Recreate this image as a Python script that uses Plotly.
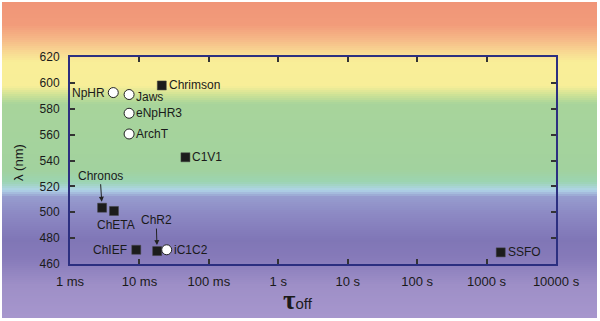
import math
import plotly.graph_objects as go

# ---- data ----
names = ["NpHR", "Jaws", "eNpHR3", "ArchT", "Chrimson", "C1V1", "Chronos",
         "ChETA", "ChIEF", "ChR2", "iC1C2", "SSFO"]
tau_off_s = [0.0042, 0.0071, 0.0071, 0.0071, 0.021, 0.046, 0.0029,
             0.0043, 0.0090, 0.018, 0.0247, 1600.0]
wavelength_nm = [592.5, 591.0, 576.5, 560.5, 598.0, 542.5, 503.5,
                 501.0, 471.0, 470.0, 471.0, 469.0]
open_marker = [True, True, True, True, False, False, False,
               False, False, False, True, False]
xtick_vals = [1e-3, 1e-2, 1e-1, 1, 10, 100, 1000, 10000]
xtick_text = ["1 ms", "10 ms", "100 ms", "1 s", "10 s", "100 s", "1000 s", "10000 s"]
ytick_vals = [460, 480, 500, 520, 540, 560, 580, 600, 620]

# ---- layout geometry ----
W, H = 600, 321
L, R, T, B = 70, 44, 57, 57
pw, ph = W - L - R, H - T - B

def px2paper_x(px):
    return (px - L) / pw

def py2paper_y(py):
    return (H - B - py) / ph

# background spectrum gradient (pixel y, rgb)
stops = [
    (0, (240, 148, 120)), (25, (242, 156, 122)), (40, (246, 186, 136)),
    (52, (248, 216, 146)), (62, (249, 238, 152)), (86, (248, 238, 152)),
    (95, (205, 226, 150)), (104, (168, 212, 155)), (170, (162, 210, 158)),
    (182, (155, 212, 178)), (190, (176, 212, 232)), (197, (150, 156, 206)),
    (215, (140, 136, 195)), (240, (128, 118, 182)), (258, (134, 122, 185)),
    (285, (158, 143, 199)), (317, (166, 150, 205)),
]

def color_at(y):
    for (y0, c0), (y1, c1) in zip(stops[:-1], stops[1:]):
        if y0 <= y <= y1:
            t = (y - y0) / (y1 - y0) if y1 > y0 else 0
            return "rgb(%d,%d,%d)" % tuple(round(a + (b - a) * t) for a, b in zip(c0, c1))
    return "rgb(%d,%d,%d)" % stops[-1][1]

shapes = []
step = 2
for y in range(2, 317, step):
    shapes.append(dict(type="rect", xref="paper", yref="paper", layer="below",
                       x0=px2paper_x(2), x1=px2paper_x(597),
                       y0=py2paper_y(y + step), y1=py2paper_y(y),
                       fillcolor=color_at(y + step / 2), line=dict(width=0)))

fig = go.Figure()

filled_x = [t for t, o in zip(tau_off_s, open_marker) if not o]
filled_y = [w for w, o in zip(wavelength_nm, open_marker) if not o]
open_x = [t for t, o in zip(tau_off_s, open_marker) if o]
open_y = [w for w, o in zip(wavelength_nm, open_marker) if o]

fig.add_trace(go.Scatter(x=filled_x, y=filled_y, mode="markers",
                         marker=dict(symbol="square", size=9, color="#1c1c1c",
                                     line=dict(width=0.5, color="#444")),
                         showlegend=False, cliponaxis=False))
fig.add_trace(go.Scatter(x=open_x, y=open_y, mode="markers",
                         marker=dict(symbol="circle", size=10, color="white",
                                     line=dict(width=1, color="#222")),
                         showlegend=False, cliponaxis=False))

# label placement: (xanchor, xshift, yshift, arrow ax, arrow ay)
label_pos = {
    "NpHR": ("right", -6, 0, None, None),
    "Jaws": ("left", 5, -2, None, None),
    "eNpHR3": ("left", 5, 0, None, None),
    "ArchT": ("left", 5, 0, None, None),
    "Chrimson": ("left", 5, 0, None, None),
    "C1V1": ("left", 5, 0, None, None),
    "Chronos": ("center", 0, 0, -2, -32),
    "ChETA": ("center", 2, -14, None, None),
    "ChIEF": ("right", -7, 0, None, None),
    "ChR2": ("center", 0, 0, -1, -31),
    "iC1C2": ("left", 5, 0, None, None),
    "SSFO": ("left", 5, 0, None, None),
}

annotations = []
lab_font = dict(family="Liberation Sans, Arial, sans-serif", size=12, color="#1a1a1a")
for n, t, w in zip(names, tau_off_s, wavelength_nm):
    xa, xs, ys, ax, ay = label_pos[n]
    if ax is not None:
        annotations.append(dict(x=math.log10(t), y=w, xref="x", yref="y", text=n,
                                showarrow=True, ax=ax, ay=ay, arrowhead=2,
                                arrowsize=1, arrowwidth=1, arrowcolor="#222",
                                standoff=6, font=lab_font))
    else:
        annotations.append(dict(x=math.log10(t), y=w, xref="x", yref="y", text=n,
                                showarrow=False, xanchor=xa, yanchor="middle",
                                xshift=xs, yshift=ys, font=lab_font))

# axis titles
annotations.append(dict(x=px2paper_x(298), y=py2paper_y(300), xref="paper", yref="paper",
                        text="<span style='font-family:Liberation Serif;font-size:27px;font-weight:bold'>τ</span>off",
                        showarrow=False, xanchor="center", yanchor="middle",
                        font=dict(family="Liberation Sans, Arial, sans-serif", size=15,
                                  color="#1a1a1a")))
annotations.append(dict(x=px2paper_x(18), y=py2paper_y(163), xref="paper", yref="paper",
                        text="λ (nm)", textangle=-90, showarrow=False,
                        xanchor="center", yanchor="middle",
                        font=dict(family="Liberation Sans, Arial, sans-serif", size=13,
                                  color="#1a1a1a")))

axis_common = dict(showline=True, linecolor="#2c2f80", linewidth=2, mirror="ticks",
                   ticks="inside", ticklen=5, tickwidth=1.5, tickcolor="#333",
                   showgrid=False, zeroline=False)

fig.update_layout(
    width=W, height=H,
    margin=dict(l=L, r=R, t=T, b=B),
    paper_bgcolor="white", plot_bgcolor="rgba(0,0,0,0)",
    shapes=shapes, annotations=annotations,
    xaxis=dict(type="log", range=[-3, 4], tickvals=xtick_vals, ticktext=xtick_text,
               ticklabelstandoff=4,
               tickfont=dict(family="Liberation Sans, Arial, sans-serif", size=13,
                             color="#1a1a1a"),
               **axis_common),
    yaxis=dict(range=[460, 620], tickvals=ytick_vals, ticklabelstandoff=6,
               tickfont=dict(family="Liberation Sans, Arial, sans-serif", size=12,
                             color="#1a1a1a"),
               **axis_common),
)

fig.write_html("out.html")
